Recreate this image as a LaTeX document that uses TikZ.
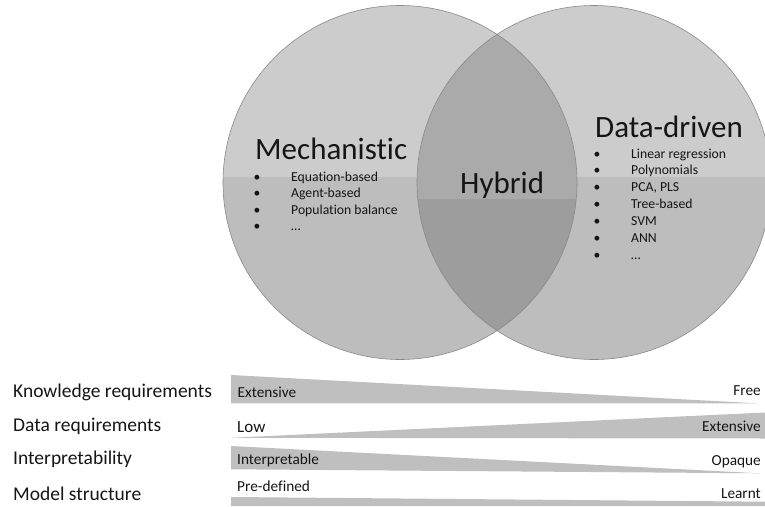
\documentclass[tikz,border=0pt]{standalone}
\usepackage{fontspec}
\setmainfont{Carlito}[Ligatures={NoCommon,NoRare,NoDiscretionary,NoContextual}]
\definecolor{circtop}{HTML}{CCCCCC}
\definecolor{circbot}{HTML}{BDBDBD}
\definecolor{lenstop}{HTML}{AAAAAA}
\definecolor{lensbot}{HTML}{9D9D9D}
\definecolor{edgecol}{HTML}{8A8A8A}
\definecolor{barfill}{HTML}{BFBFBF}
\definecolor{ink}{HTML}{151515}
\begin{document}
\begin{tikzpicture}[x=1pt,y=-1pt,
  big/.style={font=\fontsize{31}{31}\selectfont, text=ink, inner sep=0, anchor=base west},
  item/.style={font=\fontsize{13.7}{14}\selectfont, text=ink, inner sep=0, anchor=base west},
  bul/.style={font=\fontsize{13.7}{14}\selectfont, text=ink, inner sep=0, anchor=base},
  lab/.style={font=\fontsize{19.5}{20}\selectfont, text=ink, inner sep=0, anchor=base west},
  bartxt/.style={font=\fontsize{15.3}{16}\selectfont, text=ink, inner sep=0},
  wedge/.style={fill=barfill}]
\useasboundingbox (0,0) rectangle (765,506);
\coordinate (cl) at (400,182.5);
\coordinate (cr) at (594,182.5);
% circles
\begin{scope}
  \clip (0,0) rectangle (765,177);
  \fill[circtop] (cl) circle[radius=177] (cr) circle[radius=177];
\end{scope}
\begin{scope}
  \clip (0,177) rectangle (765,506);
  \fill[circbot] (cl) circle[radius=177] (cr) circle[radius=177];
\end{scope}
% lens
\begin{scope}
  \clip (cl) circle[radius=177];
  \begin{scope}
    \clip (0,0) rectangle (765,199);
    \fill[lenstop] (cr) circle[radius=177];
  \end{scope}
  \begin{scope}
    \clip (0,199) rectangle (765,506);
    \fill[lensbot] (cr) circle[radius=177];
  \end{scope}
\end{scope}
\draw[edgecol, line width=0.6pt] (cl) circle[radius=177] (cr) circle[radius=177];
% titles
\node[big] (mech) at (255,159) {Mechanistic};
\node[big] (hyb) at (460,193) {Hybrid};
\node[big] (dd) at (595,137) {Data-driven};
% mechanistic list
\node[bul] (mb1) at (257,181) {•};      \node[item] (mi1) at (291,181) {Equation-based};
\node[bul] (mb2) at (257,197.55) {•};   \node[item] (mi2) at (291,197.55) {Agent-based};
\node[bul] (mb3) at (257,214.1) {•};    \node[item] (mi3) at (291,214.1) {Population balance};
\node[bul] (mb4) at (257,230.65) {•};   \node[item] (mi4) at (291,230.65) {…};
% data-driven list
\node[bul] (db1) at (597,158) {•};      \node[item] (di1) at (631,158) {Linear regression};
\node[bul] (db2) at (597,174.9) {•};    \node[item] (di2) at (631,174.9) {Polynomials};
\node[bul] (db3) at (597,191.8) {•};    \node[item] (di3) at (631,191.8) {PCA, PLS};
\node[bul] (db4) at (597,208.7) {•};    \node[item] (di4) at (631,208.7) {Tree-based};
\node[bul] (db5) at (597,225.6) {•};    \node[item] (di5) at (631,225.6) {SVM};
\node[bul] (db6) at (597,242.5) {•};    \node[item] (di6) at (631,242.5) {ANN};
\node[bul] (db7) at (597,259.4) {•};    \node[item] (di7) at (631,259.4) {…};
% bars
\fill[wedge] (231,375) -- (757,403.3) -- (231,403.3) -- cycle;
\fill[wedge] (231,437.8) -- (765,412.5) -- (765,438.5) -- cycle;
\fill[wedge] (231,446) -- (760,473.3) -- (231,469.3) -- cycle;
\fill[wedge] (231,497) -- (765,501.7) -- (765,506) -- (231,506) -- cycle;
% left labels
\node[lab] (l1) at (13,397) {Knowledge requirements};
\node[lab] (l2) at (13,431.5) {Data requirements};
\node[lab] (l3) at (13,464) {Interpretability};
\node[lab] (l4) at (13,500) {Model structure};
% bar labels
\node[bartxt, anchor=base west] (b1l) at (237.5,397.3) {Extensive};
\node[bartxt, anchor=base east] (b1r) at (761,395) {Free};
\node[bartxt, anchor=base west, font=\fontsize{17}{17}\selectfont] (b2l) at (237,432.7) {Low};
\node[bartxt, anchor=base east] (b2r) at (761,431.7) {Extensive};
\node[bartxt, anchor=base west] (b3l) at (237,464) {Interpretable};
\node[bartxt, anchor=base east] (b3r) at (761,465) {Opaque};
\node[bartxt, anchor=base west] (b4l) at (237,491.7) {Pre-defined};
\node[bartxt, anchor=base east] (b4r) at (761,498.3) {Learnt};
\end{tikzpicture}
\end{document}
